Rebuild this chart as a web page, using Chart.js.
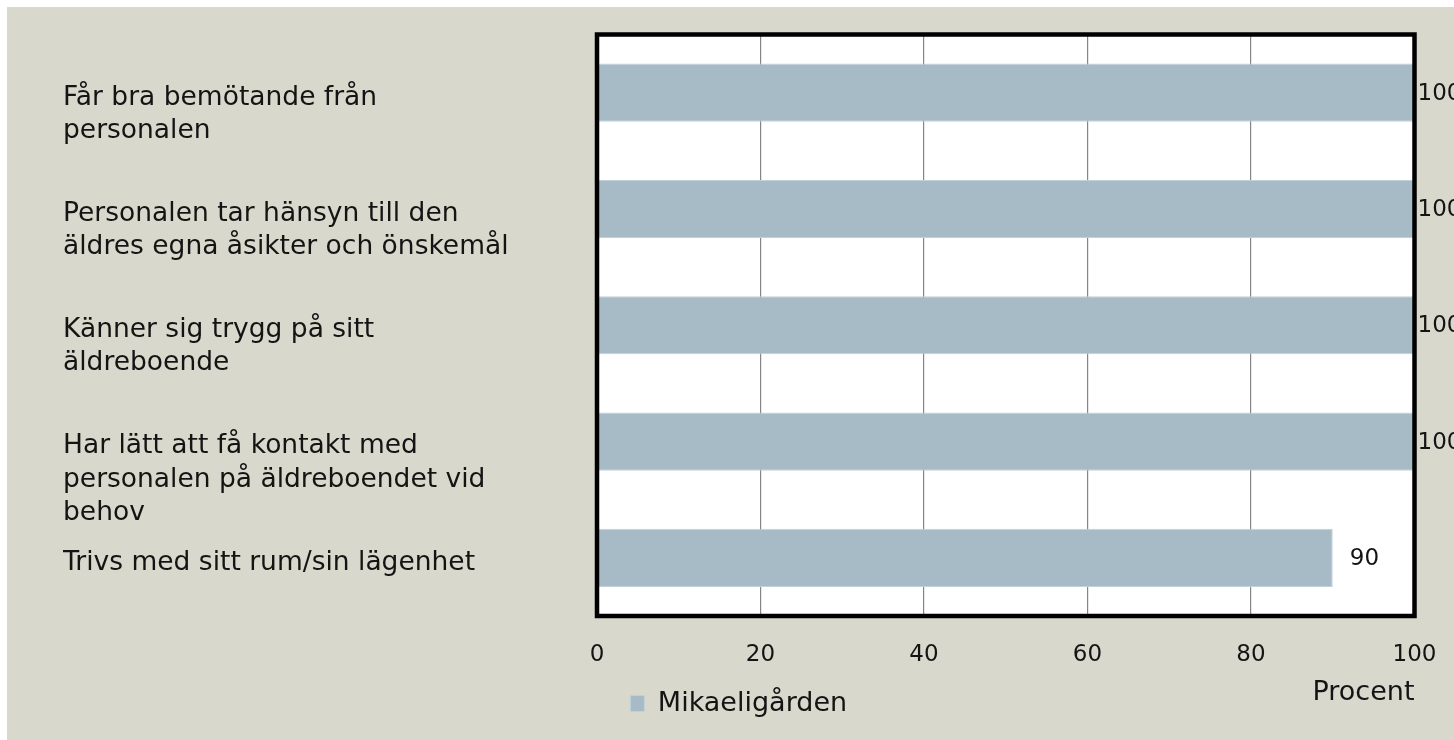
<!DOCTYPE html>
<html lang="sv">
<head>
<meta charset="utf-8">
<title>Mikaeligården</title>
<script src="https://cdn.jsdelivr.net/npm/chart.js@4/dist/chart.umd.min.js"></script>
<style>
  html, body {
    margin: 0;
    padding: 0;
    background: #ffffff;
  }
  #chartBox {
    position: absolute;
    left: 7px;
    top: 7px;
    width: 1447px;
    height: 733px;
    background: #d9d8cc;
  }
</style>
</head>
<body>
<div id="chartBox">
  <canvas id="surveyChart" width="1447" height="733"></canvas>
</div>
<script>
// データ
const categories = [
  ["Får bra bemötande från", "personalen"],
  ["Personalen tar hänsyn till den", "äldres egna åsikter och önskemål"],
  ["Känner sig trygg på sitt", "äldreboende"],
  ["Har lätt att få kontakt med", "personalen på äldreboendet vid", "behov"],
  ["Trivs med sitt rum/sin lägenhet"],
];
const values = [100, 100, 100, 100, 90];
const seriesName = "Mikaeligården";
const xTickValues = [0, 20, 40, 60, 80, 100];
const xAxisTitle = "Procent";

const barColor = "#a7bbc7";
const textColor = "#141414";

Chart.defaults.font.family = "'DejaVu Sans', sans-serif";
Chart.defaults.color = textColor;

// 1行目をバーの中央に合わせるため、上に空行を足す
function padLabel(lines) {
  const blanks = new Array(lines.length - 1).fill("");
  return blanks.concat(lines);
}

// プロット領域の背景・枠・値ラベル
const plotFramePlugin = {
  id: "plotFrame",
  beforeDraw(chart) {
    const { ctx, chartArea } = chart;
    ctx.save();
    ctx.fillStyle = "#ffffff";
    ctx.fillRect(chartArea.left, chartArea.top, chartArea.width, chartArea.height);
    ctx.restore();
  },
  afterDatasetsDraw(chart) {
    const { ctx, chartArea } = chart;
    ctx.save();
    ctx.strokeStyle = "#000000";
    ctx.lineWidth = 4.5;
    ctx.strokeRect(chartArea.left, chartArea.top, chartArea.width, chartArea.height);

    // 値ラベル
    ctx.fillStyle = textColor;
    ctx.font = "23px 'DejaVu Sans', sans-serif";
    ctx.textAlign = "left";
    ctx.textBaseline = "middle";
    const meta = chart.getDatasetMeta(0);
    meta.data.forEach((bar, i) => {
      const x = Math.min(bar.x + 17, chartArea.right + 3);
      ctx.fillText(String(values[i]), x, bar.y + 1);
    });
    ctx.restore();
  },
};

// グラフ描画
const ctx = document.getElementById("surveyChart");
new Chart(ctx, {
  type: "bar",
  data: {
    labels: categories.map((c) => padLabel(c)),
    datasets: [
      {
        label: seriesName,
        data: values,
        backgroundColor: barColor,
        borderColor: "#c2d0d9",
        borderWidth: 1,
        categoryPercentage: 1.0,
        barPercentage: 0.5,
      },
    ],
  },
  options: {
    indexAxis: "y",
    responsive: false,
    animation: false,
    layout: {
      padding: { left: 56, right: 39.5, top: 27.5, bottom: 13 },
    },
    plugins: {
      legend: {
        display: true,
        position: "bottom",
        labels: {
          boxWidth: 14,
          boxHeight: 16,
          padding: 10,
          color: textColor,
          font: { size: 27 },
        },
      },
      tooltip: { enabled: false },
    },
    scales: {
      x: {
        min: 0,
        max: 100,
        afterBuildTicks: (scale) => {
          scale.ticks = xTickValues.map((v) => ({ value: v }));
        },
        afterFit: (scale) => {
          scale.paddingLeft = 0;
          scale.paddingRight = 0;
        },
        grid: {
          color: "#858585",
          lineWidth: 1.2,
          drawTicks: false,
        },
        border: { display: false },
        ticks: {
          padding: 25.5,
          color: textColor,
          font: { size: 23 },
        },
        title: {
          display: true,
          text: xAxisTitle,
          align: "end",
          color: textColor,
          font: { size: 27 },
          padding: { top: -17.8, bottom: -29.2 },
        },
      },
      y: {
        grid: { display: false },
        border: { display: false },
        afterFit: (scale) => {
          scale.width = 534;
          scale.paddingTop = 0;
          scale.paddingBottom = 0;
        },
        ticks: {
          autoSkip: false,
          crossAlign: "far",
          labelOffset: 5,
          color: textColor,
          font: { size: 26.5, lineHeight: 1.257 },
        },
      },
    },
  },
  plugins: [plotFramePlugin],
});
</script>
</body>
</html>
